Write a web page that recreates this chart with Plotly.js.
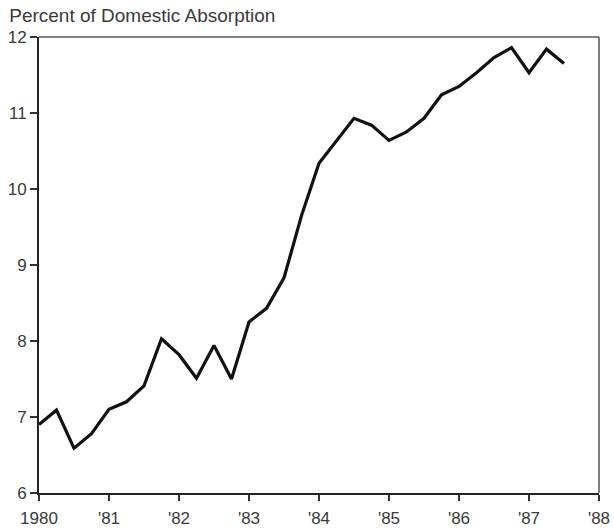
<!DOCTYPE html>
<html>
<head>
<meta charset="utf-8">
<script src="https://cdn.plot.ly/plotly-3.0.1.min.js"></script>
<style>html,body{margin:0;padding:0;background:#fff;}#chart{width:614px;height:530px;}</style>
</head>
<body>
<div id="chart"></div>
<script>
// Quarterly observations
var quarters = [1980.0, 1980.25, 1980.5, 1980.75,
                1981.0, 1981.25, 1981.5, 1981.75,
                1982.0, 1982.25, 1982.5, 1982.75,
                1983.0, 1983.25, 1983.5, 1983.75,
                1984.0, 1984.25, 1984.5, 1984.75,
                1985.0, 1985.25, 1985.5, 1985.75,
                1986.0, 1986.25, 1986.5, 1986.75,
                1987.0, 1987.25, 1987.5];
var percentValues = [6.90, 7.09, 6.59, 6.78,
                     7.10, 7.20, 7.41, 8.03,
                     7.82, 7.51, 7.94, 7.50,
                     8.25, 8.43, 8.83, 9.65,
                     10.34, 10.64, 10.93, 10.84,
                     10.64, 10.75, 10.93, 11.24,
                     11.35, 11.53, 11.73, 11.86,
                     11.53, 11.84, 11.65];
var xTickVals = [1980, 1981, 1982, 1983, 1984, 1985, 1986, 1987, 1988];
var xTickText = ["1980", "'81", "'82", "'83", "'84", "'85", "'86", "'87", "'88"];
var yTickVals = [6, 7, 8, 9, 10, 11, 12];

var trace = {
  x: quarters, y: percentValues, type: 'scatter', mode: 'lines',
  line: {color: '#111', width: 3.2, shape: 'linear'},
  hoverinfo: 'skip'
};

var layout = {
  width: 614, height: 530,
  margin: {l: 39, r: 15, t: 37, b: 37},
  paper_bgcolor: '#fff', plot_bgcolor: '#fff',
  font: {family: 'Liberation Sans, Arial, sans-serif', color: '#3a3a3a', size: 17},
  showlegend: false,
  title: {text: 'Percent of Domestic Absorption', x: 0.015, xanchor: 'left', y: 0.971, yanchor: 'middle',
          font: {size: 19, color: '#3a3a3a'}},
  xaxis: {range: [1980, 1988], tickvals: xTickVals, ticktext: xTickText,
          showgrid: false, zeroline: false, showline: true, linecolor: '#222', linewidth: 2,
          ticks: 'outside', ticklen: 6, tickwidth: 1.5, tickcolor: '#333', ticklabelstandoff: 3,
          tickfont: {size: 17, color: '#3a3a3a'}, fixedrange: true},
  yaxis: {range: [6, 12], tickvals: yTickVals,
          showgrid: false, zeroline: false, showline: true, linecolor: '#222', linewidth: 2,
          ticks: 'outside', ticklen: 7, tickwidth: 1.5, tickcolor: '#333',
          tickfont: {size: 17, color: '#3a3a3a'}, fixedrange: true},
  shapes: [
    {type: 'line', xref: 'paper', yref: 'paper', x0: 0, x1: 1, y0: 1, y1: 1, line: {color: '#555', width: 1.5}},
    {type: 'line', xref: 'paper', yref: 'paper', x0: 1, x1: 1, y0: 0, y1: 1, line: {color: '#555', width: 1.5}}
  ]
};

Plotly.newPlot('chart', [trace], layout, {displayModeBar: false, staticPlot: true});
</script>
</body>
</html>
